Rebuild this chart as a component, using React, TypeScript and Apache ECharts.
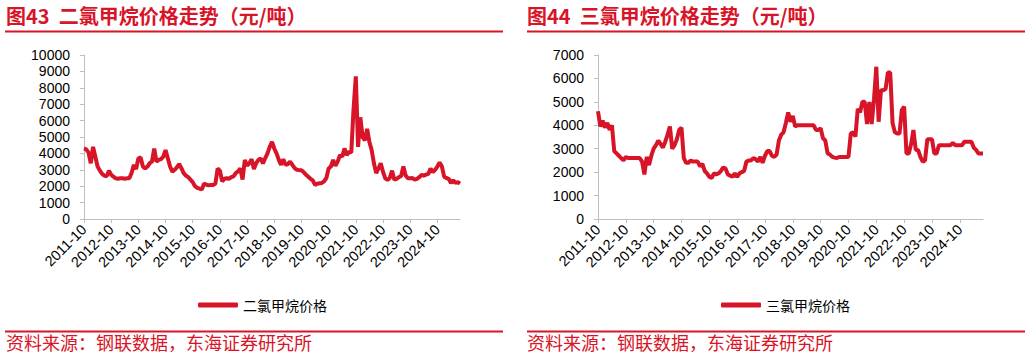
import React, { useEffect, useRef } from "react";
import * as echarts from "echarts";

// Monthly categories from 2011-10 to 2025-08
const START_YEAR = 2011;
const START_MONTH = 10;
const N_MONTHS = 167;
const months: string[] = [];
for (let k = 0; k < N_MONTHS; k++) {
  const m0 = START_MONTH - 1 + k;
  const y = START_YEAR + Math.floor(m0 / 12);
  const m = (m0 % 12) + 1;
  months.push(`${y}-${m < 10 ? "0" + m : m}`);
}

const titleLeft = "图43  二氯甲烷价格走势（元/吨）";
const titleRight = "图44  三氯甲烷价格走势（元/吨）";
const sourceText = "资料来源：钢联数据，东海证券研究所";
const nameDCM = "二氯甲烷价格";
const nameTCM = "三氯甲烷价格";

// 二氯甲烷 (元/吨), monthly
const dcm: number[] = [
  4300, 4250, 4050, 3400, 4400, 3800, 3200, 2950, 2750, 2650, 2600, 2950,
  2700, 2580, 2480, 2450, 2480, 2480, 2450, 2480, 2480, 2800, 3300, 3050,
  3700, 3750, 3200, 3080, 3200, 3400, 3500, 4300, 3500, 3600, 3650, 3800,
  4200, 3700, 3200, 2880, 3000, 3150, 3350, 3100, 2800, 2650, 2550, 2400,
  2250, 2000, 1900, 1850, 1800, 2150, 2100, 2050, 2080, 2080, 2150, 3080,
  2950, 2300, 2450, 2480, 2450, 2550, 2600, 2800, 2900, 3080, 2400, 3600,
  3250, 3400, 3650, 3050, 3400, 3600, 3700, 3380, 3700, 4000, 4400, 4700,
  4300, 4000, 3600, 3300, 3650, 3300, 3350, 3500, 3300, 3100, 3000, 2980,
  2980, 2850, 2700, 2580, 2450, 2350, 2080, 2150, 2180, 2200, 2300, 2500,
  3080, 3200, 3600, 3250, 3500, 3900, 3800, 4300, 3900, 4100, 4050, 6700,
  8700, 4400, 6200, 5000, 4800, 5500, 4700, 4200, 3400, 2800, 3080, 3400,
  2880, 2480, 2380, 2500, 2950, 2400, 2450, 2550, 2620, 3200, 2650, 2480,
  2480, 2500, 2400, 2450, 2550, 2680, 2650, 2700, 2750, 3080, 2850, 3000,
  3200, 3450, 3200, 2580, 2500, 2450, 2200, 2350, 2200, 2250, 2150,
];

// 三氯甲烷 (元/吨), monthly
const tcm: number[] = [
  4600, 3950, 4200, 3900, 4100, 3800, 4000, 2900, 2800, 2700, 2600, 2500,
  2650, 2600, 2600, 2600, 2600, 2600, 2600, 2450, 1900, 2650, 2300, 2700,
  3000, 3150, 3350, 3200, 3050, 3300, 3600, 3950, 3000, 3150, 3400, 3800,
  3900, 2600, 2400, 2400, 2500, 2450, 2450, 2450, 2250, 2350, 2050, 1950,
  1800, 1750, 1950, 1900, 1950, 2050, 2200, 2150, 1900, 1850, 1800, 1950,
  1800, 1950, 2000, 2050, 2450, 2500, 2500, 2600, 2550, 2450, 2650, 2400,
  2700, 2900, 2900, 2700, 2650, 2750, 3350, 3600, 3700, 4100, 4550, 4150,
  4400, 3950, 4000, 4000, 4000, 4000, 4000, 4000, 4000, 4000, 3800, 3800,
  3870, 3450, 3350, 2800, 2750, 2650, 2620, 2600, 2650, 2650, 2650, 2650,
  2650, 3650, 3700, 3520, 4700, 4550, 5000, 5000, 4050, 5000, 4050, 5100,
  6500, 4150, 5500, 5500, 5550, 6250, 6250, 4100, 3700, 3650, 3650, 4650,
  4800, 2800, 2800, 3200, 3800, 2950, 2950, 2650, 2450, 2500, 3400, 3400,
  3400, 2800, 2800, 3150, 3150, 3150, 3150, 3150, 3150, 3250, 3150, 3150,
  3150, 3150, 3300, 3300, 3300, 3300, 3050, 2950, 2800, 2800, 2800,
];

const RED = "#d81428";
const AXIS = "#bfbfbf";
const FONT = "'Liberation Sans', Arial, 'Noto Sans CJK SC', sans-serif";
const CJK = "'Noto Sans CJK SC', 'Liberation Sans', sans-serif";

const yearTick = (index: number) => index % 12 === 0;

function makeXAxis(gridIndex: number) {
  return {
    type: "category",
    gridIndex,
    data: months,
    boundaryGap: false,
    axisLine: { lineStyle: { color: AXIS, width: 1 } },
    axisTick: { show: true, interval: yearTick, length: 4, lineStyle: { color: AXIS } },
    axisLabel: {
      interval: yearTick,
      rotate: 45,
      margin: 8,
      color: "#000",
      fontSize: 14.5,
      fontFamily: FONT,
      formatter: (v: string) => (v.endsWith("-10") ? v : ""),
    },
    splitLine: { show: false },
  };
}

function makeYAxis(gridIndex: number, max: number) {
  return {
    type: "value",
    gridIndex,
    min: 0,
    max,
    interval: 1000,
    axisLine: { show: true, lineStyle: { color: AXIS, width: 1 } },
    axisTick: { show: true, length: 4, lineStyle: { color: AXIS } },
    axisLabel: {
      color: "#000",
      fontSize: 14,
      fontFamily: FONT,
      margin: 14,
      formatter: (v: number) => String(v),
    },
    splitLine: { show: false },
  };
}

export default function App() {
  const ref = useRef<HTMLDivElement>(null);
  useEffect(() => {
    if (!ref.current) return;
    const chart = echarts.init(ref.current, undefined, { renderer: "svg" });
    const option: any = {
      animation: false,
      backgroundColor: "#fff",
      grid: [
        { left: 84, top: 55, width: 376, height: 164 },
        { left: 598, top: 55, width: 385, height: 164 },
      ],
      xAxis: [makeXAxis(0), makeXAxis(1)],
      yAxis: [makeYAxis(0, 10000), makeYAxis(1, 7000)],
      legend: [
        {
          data: [nameDCM],
          left: 193,
          top: 293,
          icon: "roundRect",
          itemWidth: 40,
          itemHeight: 5,
          itemGap: 5,
          textStyle: { color: "#000", fontSize: 14, fontFamily: CJK },
        },
        {
          data: [nameTCM],
          left: 716,
          top: 293,
          icon: "roundRect",
          itemWidth: 40,
          itemHeight: 5,
          itemGap: 5,
          textStyle: { color: "#000", fontSize: 14, fontFamily: CJK },
        },
      ],
      series: [
        {
          name: nameDCM,
          type: "line",
          xAxisIndex: 0,
          yAxisIndex: 0,
          data: dcm,
          showSymbol: false,
          symbol: "none",
          lineStyle: { color: RED, width: 4 },
          itemStyle: { color: RED },
        },
        {
          name: nameTCM,
          type: "line",
          xAxisIndex: 1,
          yAxisIndex: 1,
          data: tcm,
          showSymbol: false,
          symbol: "none",
          lineStyle: { color: RED, width: 4 },
          itemStyle: { color: RED },
        },
      ],
      graphic: [
        {
          type: "text",
          left: 6,
          top: 5,
          style: { text: titleLeft, fill: RED, fontSize: 20, fontWeight: "bold", fontFamily: CJK },
        },
        {
          type: "text",
          left: 527,
          top: 5,
          style: { text: titleRight, fill: RED, fontSize: 20, fontWeight: "bold", fontFamily: CJK },
        },
        { type: "line", shape: { x1: 5, y1: 31.5, x2: 503, y2: 31.5 }, style: { stroke: RED, lineWidth: 2 } },
        { type: "line", shape: { x1: 527, y1: 31.5, x2: 1025, y2: 31.5 }, style: { stroke: RED, lineWidth: 2 } },
        { type: "line", shape: { x1: 5, y1: 331.5, x2: 503, y2: 331.5 }, style: { stroke: RED, lineWidth: 2 } },
        { type: "line", shape: { x1: 527, y1: 331.5, x2: 1025, y2: 331.5 }, style: { stroke: RED, lineWidth: 2 } },
        {
          type: "text",
          left: 6,
          top: 333,
          style: { text: sourceText, fill: RED, fontSize: 18, fontFamily: CJK },
        },
        {
          type: "text",
          left: 527,
          top: 333,
          style: { text: sourceText, fill: RED, fontSize: 18, fontFamily: CJK },
        },
      ],
    };
    chart.setOption(option);
    return () => chart.dispose();
  }, []);
  return (
    <div
      ref={ref}
      style={{ position: "absolute", left: 0, top: 0, width: 1032, height: 357, background: "#fff" }}
    />
  );
}
